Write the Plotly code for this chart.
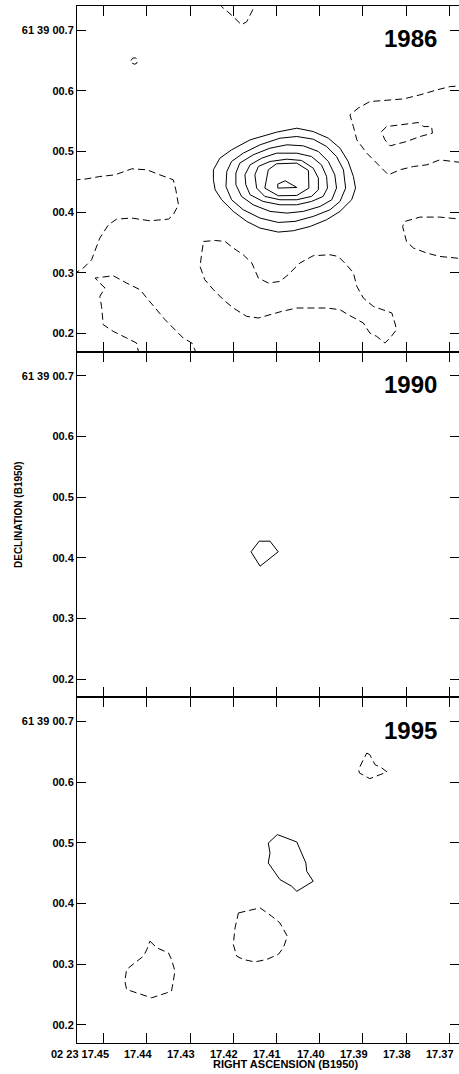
import plotly.graph_objects as go

# ---------------- axes / labels ----------------
ra_ticks = [17.45, 17.44, 17.43, 17.42, 17.41, 17.40, 17.39, 17.38, 17.37]
ra_labels = ["02 23 17.45", "17.44", "17.43", "17.42", "17.41", "17.40", "17.39", "17.38", "17.37"]
dec_ticks = [0.2, 0.3, 0.4, 0.5, 0.6, 0.7]
dec_labels = ["00.2", "00.3", "00.4", "00.5", "00.6", "61 39 00.7"]
epochs = ["1986", "1990", "1995"]
x_title = "RIGHT ASCENSION (B1950)"
y_title = "DECLINATION (B1950)"

RA_RANGE = [17.45618, 17.36775]
DEC_RANGE = [0.170, 0.740]

# ---------------- 1986 contours (RA seconds, Dec arcsec) ----------------
p86_pos1 = [(17.4246, 0.4699), (17.4231, 0.4891), (17.4204, 0.5028), (17.4161, 0.5193), (17.4100, 0.5319),
            (17.4053, 0.5385), (17.4015, 0.5330), (17.3980, 0.5220), (17.3953, 0.5056), (17.3934, 0.4836),
            (17.3922, 0.4589), (17.3917, 0.4397), (17.3926, 0.4205), (17.3953, 0.4013), (17.3984, 0.3875),
            (17.4022, 0.3765), (17.4061, 0.3694), (17.4096, 0.3672), (17.4138, 0.3738), (17.4169, 0.3848),
            (17.4200, 0.4013), (17.4227, 0.4205), (17.4242, 0.4369), (17.4246, 0.4534), (17.4246, 0.4699)]
p86_pos2 = [(17.4215, 0.4671), (17.4204, 0.4836), (17.4177, 0.4973), (17.4138, 0.5111), (17.4092, 0.5220),
            (17.4053, 0.5248), (17.4015, 0.5204), (17.3984, 0.5083), (17.3961, 0.4918), (17.3945, 0.4699),
            (17.3940, 0.4397), (17.3953, 0.4177), (17.3976, 0.4040), (17.4015, 0.3930), (17.4057, 0.3848),
            (17.4096, 0.3831), (17.4138, 0.3903), (17.4177, 0.4040), (17.4204, 0.4205), (17.4217, 0.4424),
            (17.4215, 0.4671)]
p86_pos3 = [(17.4194, 0.4644), (17.4185, 0.4809), (17.4154, 0.4946), (17.4115, 0.5056), (17.4076, 0.5111),
            (17.4038, 0.5094), (17.4003, 0.5001), (17.3980, 0.4836), (17.3965, 0.4616), (17.3961, 0.4397),
            (17.3972, 0.4205), (17.3999, 0.4095), (17.4038, 0.4013), (17.4076, 0.3985), (17.4115, 0.4013),
            (17.4154, 0.4122), (17.4181, 0.4260), (17.4194, 0.4452), (17.4194, 0.4644)]
p86_pos4 = [(17.4173, 0.4616), (17.4161, 0.4781), (17.4134, 0.4891), (17.4100, 0.4973), (17.4053, 0.4973),
            (17.4019, 0.4918), (17.3996, 0.4781), (17.3984, 0.4589), (17.3982, 0.4397), (17.3992, 0.4260),
            (17.4019, 0.4177), (17.4053, 0.4122), (17.4092, 0.4122), (17.4131, 0.4177), (17.4161, 0.4287),
            (17.4171, 0.4452), (17.4173, 0.4616)]
p86_pos5 = [(17.4150, 0.4616), (17.4142, 0.4754), (17.4115, 0.4836), (17.4076, 0.4874), (17.4042, 0.4853),
            (17.4015, 0.4726), (17.4003, 0.4562), (17.4003, 0.4369), (17.4019, 0.4260), (17.4053, 0.4205),
            (17.4092, 0.4205), (17.4127, 0.4260), (17.4146, 0.4397), (17.4150, 0.4616)]
p86_pos6 = [(17.4119, 0.4699), (17.4100, 0.4798), (17.4053, 0.4809), (17.4026, 0.4688), (17.4025, 0.4397),
            (17.4053, 0.4276), (17.4096, 0.4271), (17.4127, 0.4397), (17.4119, 0.4699)]
p86_pos7 = [(17.4097, 0.4463), (17.4080, 0.4518), (17.4053, 0.4408), (17.4097, 0.4397), (17.4097, 0.4463)]

n86_top = [(17.4232, 0.745), (17.4227, 0.739), (17.4204, 0.725), (17.4181, 0.709), (17.4169, 0.714),
           (17.4150, 0.739), (17.4147, 0.745)]
n86_dot = [(17.4437, 0.650), (17.4433, 0.654), (17.4426, 0.6545), (17.4422, 0.651), (17.4423, 0.646),
           (17.4428, 0.644), (17.4434, 0.6455)]
n86_left = [(17.4570, 0.4530), (17.4539, 0.4550), (17.4509, 0.4588), (17.4474, 0.4616), (17.4435, 0.4715),
            (17.4400, 0.4699), (17.4370, 0.4616), (17.4339, 0.4534), (17.4333, 0.4369), (17.4327, 0.4122),
            (17.4339, 0.3957), (17.4350, 0.3886), (17.4393, 0.3858), (17.4435, 0.3903), (17.4470, 0.3886),
            (17.4489, 0.3792), (17.4509, 0.3573), (17.4520, 0.3381), (17.4528, 0.3216), (17.4547, 0.3079),
            (17.4570, 0.2980)]
n86_lowleft = [(17.4418, 0.165), (17.4424, 0.1843), (17.4447, 0.1926), (17.4478, 0.2035), (17.4501, 0.2145),
               (17.4505, 0.2447), (17.4509, 0.2611), (17.4497, 0.2750), (17.4509, 0.2832), (17.4520, 0.2914),
               (17.4501, 0.2931), (17.4478, 0.2952), (17.4447, 0.2832), (17.4416, 0.2722), (17.4397, 0.2557),
               (17.4377, 0.2392), (17.4358, 0.2228), (17.4339, 0.2091), (17.4316, 0.1926), (17.4296, 0.1843),
               (17.4289, 0.1733), (17.4286, 0.165)]
n86_mid = [(17.4269, 0.3517), (17.4242, 0.3534), (17.4219, 0.3517), (17.4200, 0.3409), (17.4177, 0.3298),
           (17.4157, 0.3161), (17.4142, 0.2914), (17.4119, 0.2832), (17.4092, 0.2858), (17.4073, 0.2969),
           (17.4046, 0.3161), (17.4015, 0.3282), (17.3976, 0.3298), (17.3957, 0.3270), (17.3938, 0.3133),
           (17.3922, 0.2997), (17.3914, 0.2776), (17.3899, 0.2585), (17.3876, 0.2447), (17.3853, 0.2392),
           (17.3833, 0.2338), (17.3826, 0.2173), (17.3822, 0.2063), (17.3837, 0.1926), (17.3849, 0.1843),
           (17.3868, 0.1952), (17.3884, 0.2008), (17.3899, 0.2173), (17.3914, 0.2227), (17.3934, 0.2310),
           (17.3953, 0.2392), (17.3984, 0.2420), (17.4022, 0.2420), (17.4053, 0.2420), (17.4088, 0.2364),
           (17.4115, 0.2310), (17.4142, 0.2255), (17.4169, 0.2282), (17.4200, 0.2420), (17.4223, 0.2557),
           (17.4246, 0.2722), (17.4266, 0.2886), (17.4277, 0.3105), (17.4273, 0.3326), (17.4269, 0.3517)]
n86_upright = [(17.3660, 0.6090), (17.3698, 0.6071), (17.3729, 0.6016), (17.3768, 0.5934), (17.3806, 0.5868),
               (17.3845, 0.5852), (17.3884, 0.5824), (17.3911, 0.5715), (17.3930, 0.5605), (17.3922, 0.5412),
               (17.3914, 0.5193), (17.3891, 0.4974), (17.3868, 0.4809), (17.3841, 0.4616), (17.3814, 0.4700),
               (17.3783, 0.4753), (17.3752, 0.4781), (17.3722, 0.4863), (17.3691, 0.4835), (17.3660, 0.4810)]
n86_inner = [(17.3857, 0.5329), (17.3845, 0.5412), (17.3814, 0.5440), (17.3772, 0.5478), (17.3759, 0.5412),
             (17.3741, 0.5412), (17.3739, 0.5303), (17.3768, 0.5247), (17.3799, 0.5165), (17.3837, 0.5094),
             (17.3849, 0.5193), (17.3857, 0.5329)]
n86_right = [(17.3660, 0.3875), (17.3722, 0.3919), (17.3768, 0.3919), (17.3803, 0.3847), (17.3808, 0.3764),
             (17.3799, 0.3517), (17.3783, 0.3409), (17.3752, 0.3326), (17.3722, 0.3270), (17.3660, 0.3227)]

# ---------------- 1990 contours ----------------
p90_pos1 = [(17.4159, 0.4100), (17.4140, 0.4275), (17.4115, 0.4275), (17.4096, 0.4100), (17.4138, 0.3863),
            (17.4151, 0.4002), (17.4159, 0.4100)]

# ---------------- 1995 contours ----------------
p95_pos1 = [(17.4119, 0.4998), (17.4098, 0.5137), (17.4053, 0.5015), (17.4046, 0.4890), (17.4032, 0.4669),
            (17.4030, 0.4532), (17.4015, 0.4367), (17.4053, 0.4202), (17.4065, 0.4285), (17.4092, 0.4395),
            (17.4106, 0.4532), (17.4119, 0.4669), (17.4115, 0.4834), (17.4119, 0.4998)]
n95_upright = [(17.3891, 0.6481), (17.3884, 0.6455), (17.3876, 0.6344), (17.3872, 0.6290), (17.3856, 0.6234),
               (17.3844, 0.6168), (17.3860, 0.6125), (17.3884, 0.6059), (17.3908, 0.6152), (17.3910, 0.6208),
               (17.3899, 0.6372), (17.3891, 0.6481)]
n95_mid = [(17.4188, 0.3845), (17.4173, 0.3873), (17.4138, 0.3928), (17.4111, 0.3791), (17.4092, 0.3680),
           (17.4075, 0.3461), (17.4084, 0.3269), (17.4096, 0.3160), (17.4123, 0.3077), (17.4150, 0.3037),
           (17.4177, 0.3077), (17.4192, 0.3132), (17.4200, 0.3325), (17.4196, 0.3598), (17.4188, 0.3845)]
n95_left = [(17.4393, 0.3379), (17.4377, 0.3269), (17.4350, 0.3186), (17.4343, 0.3077), (17.4335, 0.2885),
            (17.4343, 0.2555), (17.4354, 0.2527), (17.4389, 0.2445), (17.4424, 0.2527), (17.4447, 0.2583),
            (17.4451, 0.2720), (17.4447, 0.2913), (17.4428, 0.3021), (17.4408, 0.3132), (17.4400, 0.3242),
            (17.4393, 0.3379)]

panels = [
    dict(pos=[p86_pos1, p86_pos2, p86_pos3, p86_pos4, p86_pos5, p86_pos6, p86_pos7],
         neg=[n86_top, n86_dot, n86_left, n86_lowleft, n86_mid, n86_upright, n86_inner, n86_right]),
    dict(pos=[p90_pos1], neg=[]),
    dict(pos=[p95_pos1], neg=[n95_upright, n95_mid, n95_left]),
]

W, H = 459, 1074
ML, MR, MT, MB = 77, 0, 6, 31
FONT = "Liberation Sans, Arial, Helvetica, sans-serif"
DASH = "7px,4px"

fig = go.Figure()
domains = [[2 / 3, 1.0], [1 / 3, 2 / 3], [0.0, 1 / 3]]

for i, p in enumerate(panels):
    xr = "x" if i == 0 else f"x{i + 1}"
    yr = "y" if i == 0 else f"y{i + 1}"
    for c in p["pos"]:
        fig.add_trace(go.Scatter(x=[pt[0] for pt in c], y=[pt[1] for pt in c], mode="lines",
                                 line=dict(color="black", width=1), xaxis=xr, yaxis=yr,
                                 showlegend=False, hoverinfo="skip"))
    for c in p["neg"]:
        fig.add_trace(go.Scatter(x=[pt[0] for pt in c], y=[pt[1] for pt in c], mode="lines",
                                 line=dict(color="black", width=1, dash=DASH), xaxis=xr, yaxis=yr,
                                 showlegend=False, hoverinfo="skip"))
    # dummy trace for right-side tick axis
    fig.add_trace(go.Scatter(x=[None], y=[None], xaxis=xr, yaxis=f"y{i + 4}", showlegend=False,
                             hoverinfo="skip"))

layout = dict(
    width=W, height=H,
    margin=dict(l=ML, r=MR, t=MT, b=MB, pad=0),
    paper_bgcolor="white", plot_bgcolor="white",
    showlegend=False,
)
for i in range(3):
    xk = "xaxis" if i == 0 else f"xaxis{i + 1}"
    yk = "yaxis" if i == 0 else f"yaxis{i + 1}"
    yname = "y" if i == 0 else f"y{i + 1}"
    xname = "x" if i == 0 else f"x{i + 1}"
    layout[xk] = dict(domain=[0, 1], anchor=yname, range=RA_RANGE, tickvals=ra_ticks,
                      showticklabels=False, ticks="inside", ticklen=10, tickcolor="black", tickwidth=1,
                      showline=True, linecolor="black", linewidth=1, mirror="ticks",
                      showgrid=False, zeroline=False, fixedrange=True)
    layout[yk] = dict(domain=domains[i], anchor=xname, range=DEC_RANGE, tickvals=dec_ticks,
                      ticktext=dec_labels, ticks="inside", ticklen=9, tickcolor="black", tickwidth=1,
                      showline=True, linecolor="black", linewidth=1, mirror=False,
                      showgrid=False, zeroline=False, fixedrange=True,
                      tickfont=dict(family=FONT, size=11, color="black", weight="bold"))
    layout[f"yaxis{i + 4}"] = dict(overlaying=yname, anchor=xname, side="right", range=DEC_RANGE,
                                   tickvals=dec_ticks, showticklabels=False, ticks="inside", ticklen=9,
                                   tickcolor="black", tickwidth=1, showline=False, showgrid=False,
                                   zeroline=False, fixedrange=True)

annotations = []
for v, lab in zip(ra_ticks, ra_labels):
    annotations.append(dict(x=v, xref="x3", y=0, yref="paper", xanchor="right", yanchor="top",
                            xshift=7, yshift=-3, text=lab, showarrow=False,
                            font=dict(family=FONT, size=11, color="black", weight="bold")))
annotations.append(dict(x=(285 - ML) / (W - ML), xref="paper", y=0, yref="paper", xanchor="center",
                        yanchor="top", yshift=-13, text=x_title, showarrow=False,
                        font=dict(family=FONT, size=11, color="black", weight="bold")))
annotations.append(dict(x=(18 - ML) / (W - ML), xref="paper", y=(H - MB - 515) / (H - MB - MT),
                        yref="paper", xanchor="center", yanchor="middle", textangle=-90,
                        text=y_title, showarrow=False,
                        font=dict(family=FONT, size=10, color="black", weight="bold")))
for i, ep in enumerate(epochs):
    annotations.append(dict(x=(439 - ML) / (W - ML), xref="paper", y=domains[i][1] - 33 / (H - MB - MT),
                            yref="paper", xanchor="right", yanchor="middle", text=ep, showarrow=False,
                            font=dict(family=FONT, size=24, color="black", weight="bold")))
layout["annotations"] = annotations

fig.update_layout(**layout)
fig.write_html("out.html", config={"displayModeBar": False})
